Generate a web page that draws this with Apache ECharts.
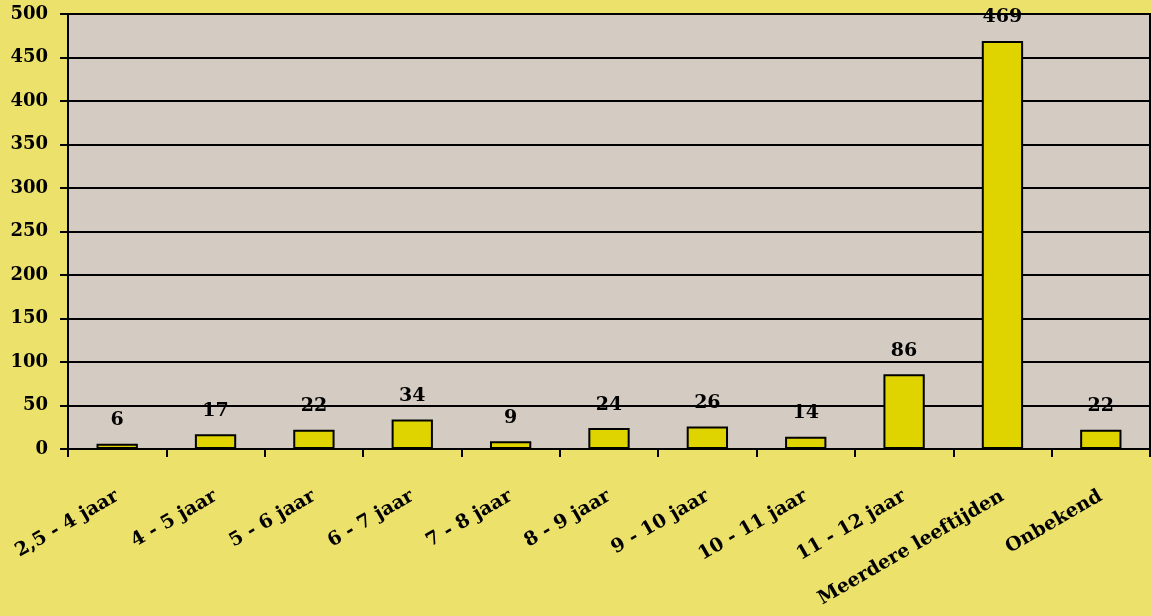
<!DOCTYPE html>
<html><head><meta charset="utf-8">
<script src="https://cdn.jsdelivr.net/npm/echarts@6/dist/echarts.min.js"></script>
<style>html,body{margin:0;padding:0;background:#ECE16B;}#c{width:1152px;height:616px;}</style>
</head><body><div id="c"></div>
<script>
const categories = ['2,5 - 4 jaar','4 - 5 jaar','5 - 6 jaar','6 - 7 jaar','7 - 8 jaar','8 - 9 jaar','9 - 10 jaar','10 - 11 jaar','11 - 12 jaar','Meerdere leeftijden','Onbekend'];
const values = [6,17,22,34,9,24,26,14,86,469,22];
const yTicks = [0,50,100,150,200,250,300,350,400,450,500];
const font = "'DejaVu Serif', serif";
const chart = echarts.init(document.getElementById('c'));
chart.setOption({
  backgroundColor:'#ECE16B',
  animation:false,
  grid:{left:68,right:2,top:14,bottom:167,show:true,backgroundColor:'#D4CCC2',borderColor:'#000',borderWidth:2},
  xAxis:{type:'category',data:categories,
    axisLine:{lineStyle:{color:'#000',width:2}},
    axisTick:{show:true,alignWithLabel:false,length:8,lineStyle:{color:'#000',width:2}},
    axisLabel:{rotate:30,color:'#000',fontFamily:font,fontSize:19,fontWeight:'bold',margin:46,interval:0}},
  yAxis:{type:'value',min:yTicks[0],max:yTicks[yTicks.length-1],interval:50,
    axisLine:{show:true,lineStyle:{color:'#000',width:2}},
    axisTick:{show:true,length:8,lineStyle:{color:'#000',width:2}},
    splitLine:{lineStyle:{color:'#000',width:2}},
    axisLabel:{color:'#000',fontFamily:font,fontSize:18,fontWeight:'bold',margin:20}},
  series:[{type:'bar',data:values,barWidth:'42%',
    itemStyle:{color:'#E0D400',borderColor:'#000',borderWidth:2},
    label:{show:true,position:'top',distance:14,color:'#000',fontFamily:font,fontSize:19,fontWeight:'bold'}}]
});
</script></body></html>
